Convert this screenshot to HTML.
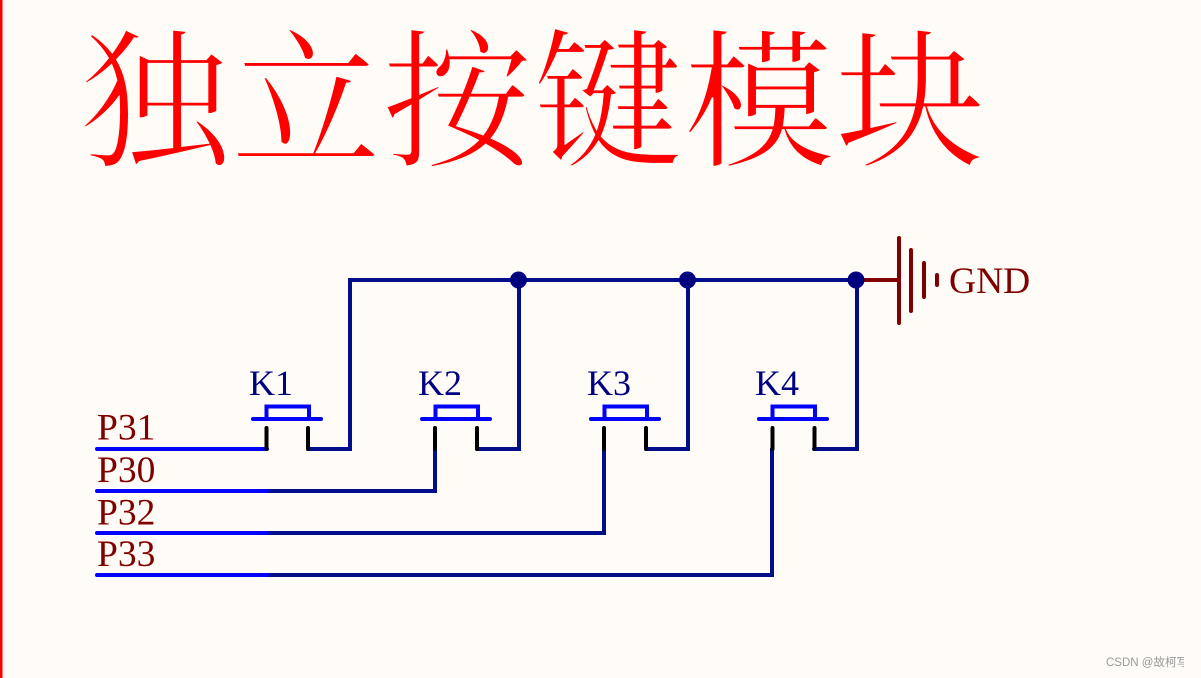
<!DOCTYPE html>
<html><head><meta charset="utf-8">
<style>html,body{margin:0;padding:0;background:#fffcf8}svg{display:block}</style>
</head><body>
<svg width="1201" height="678" viewBox="0 0 1201 678" xmlns="http://www.w3.org/2000/svg">
<rect width="1201" height="678" fill="#fffcf8"/>
<rect x="0" y="0" width="2.5" height="678" fill="#f00"/>
<g font-family="'Noto Serif CJK SC','Noto Serif CJK JP',serif" font-size="150" fill="#f00" stroke="#fffcf8" stroke-width="1.6">
<text x="80" y="155">独</text><text x="231" y="155">立</text><text x="382" y="155">按</text><text x="533" y="155">键</text><text x="684" y="155">模</text><text x="835" y="155">块</text>
</g>
<g fill="none" stroke-width="4" stroke-linecap="round" stroke-linejoin="miter">
<path d="M308 449H350V280H856M477 449H519V280M646 449H688V280M814 449H857V280M267 491H435V449M267 533H604V449M267 575H772V449" stroke="#000e8c"/>
<path d="M856 280H899" stroke="#800000"/>
<path d="M97 449H267M97 491H267M97 533H267M97 575H267" stroke="#0000ff"/>
<path d="M266.500 428V449M308 428V449M435 428V449M477 428V449M604 428V449M646 428V449M772.500 428V449M814.500 428V449" stroke="#000"/>
<g stroke="#0000ff">
<path d="M253 419H321M266.500 419V406.500H309V419"/>
<path d="M422 419H490M435.500 419V406.500H478V419"/>
<path d="M591 419H659M604.500 419V406.500H647V419"/>
<path d="M759 419H827M772.500 419V406.500H815V419"/>
</g>
<path d="M899 238V323M911 250V311M924 263V297M937 275V285" stroke="#800000" stroke-width="4"/>
</g>
<g fill="#000080"><circle cx="518.500" cy="280" r="8.500"/><circle cx="687.500" cy="280" r="8.500"/><circle cx="856" cy="280" r="8.500"/></g>
<g font-family="'Liberation Serif',serif" font-size="37.500" fill="#800000">
<text x="949" y="293">GND</text>
<text x="97" y="439.500">P31</text><text x="97" y="482">P30</text><text x="97" y="524.500">P32</text><text x="97" y="566">P33</text>
</g>
<g font-family="'Liberation Serif',serif" font-size="36" fill="#000080">
<text x="249" y="395">K1</text><text x="418" y="395">K2</text><text x="587" y="395">K3</text><text x="755" y="395">K4</text>
</g>
<text x="1106" y="666" font-family="'Liberation Sans','Noto Sans CJK SC',sans-serif" font-size="11.500" fill="#999">CSDN @故柯<tspan>写</tspan></text>
<rect x="1184" y="650" width="17" height="22" fill="#fffcf8"/>
</svg>
</body></html>
